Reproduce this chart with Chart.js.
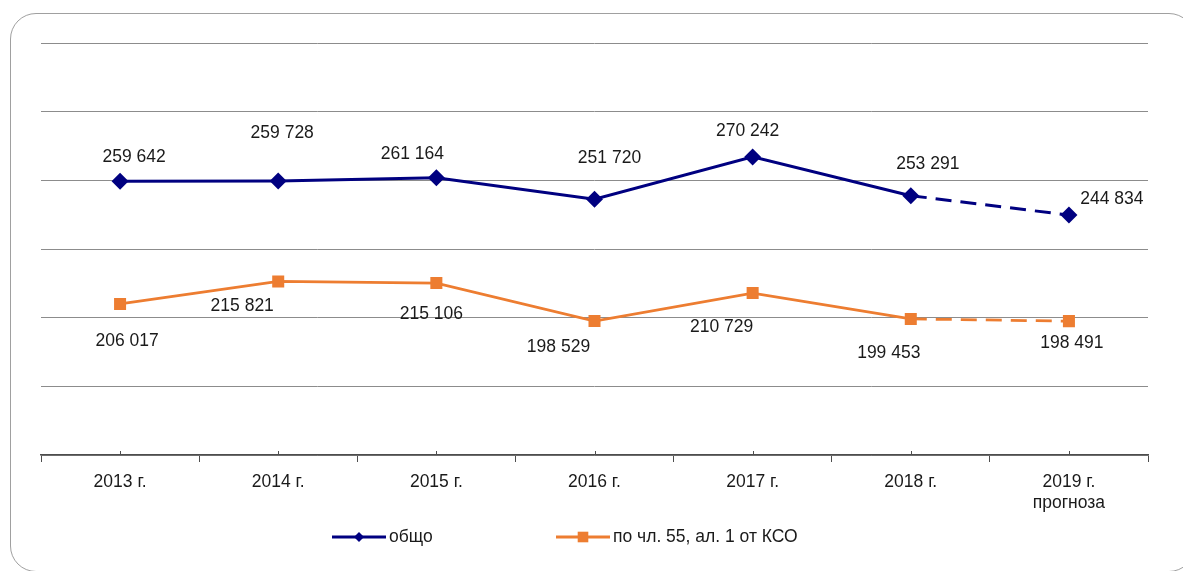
<!DOCTYPE html>
<html lang="bg">
<head>
<meta charset="utf-8">
<title>Общо и по чл. 55, ал. 1 от КСО</title>
<script src="https://cdn.jsdelivr.net/npm/chart.js@4.4.1/dist/chart.umd.min.js"></script>
<style>
    html, body { margin: 0; padding: 0; background: #fff; overflow: hidden; }
    .frame {
        position: absolute;
        left: 10px;
        top: 13px;
        width: 1185px;
        height: 559px;
        border: 1.5px solid #a0a0a0;
        border-radius: 26px;
        box-sizing: border-box;
    }
    #chart { position: absolute; left: 0; top: 0; }
</style>
</head>
<body>
<div class="frame"></div>
<canvas id="chart" width="1183" height="571"></canvas>
<script>
// Данни
const years = ['2013 г.', '2014 г.', '2015 г.', '2016 г.', '2017 г.', '2018 г.', ['2019 г.', 'прогноза']];
const totalValues = [259642, 259728, 261164, 251720, 270242, 253291, 244834];
const art55Values = [206017, 215821, 215106, 198529, 210729, 199453, 198491];
const seriesNames = ['общо', 'по чл. 55, ал. 1 от КСО'];

// отместване на етикетите спрямо точките (px)
const totalLabelOffsets = [[14, -24], [4, -48], [-24, -23], [15, -41], [-5, -26], [17, -32], [43, -16]];
const art55LabelOffsets = [[7, 37], [-36, 25], [-5, 31], [-36, 26], [-31, 34], [-22, 34], [3, 22]];

const forecastIndex = 6;
const fontFamily = '"Liberation Sans", Arial, sans-serif';
const fontSize = 17.5;
const textColor = '#1a1a1a';

const formatNumber = (value) => value.toString().replace(/\B(?=(\d{3})+(?!\d))/g, ' ');

const dashedForecast = (ctx) => ctx.p1DataIndex === forecastIndex ? [16, 9] : undefined;

// етикети със стойностите
const valueLabels = {
    id: 'valueLabels',
    afterDatasetsDraw(chart) {
        const ctx = chart.ctx;
        ctx.save();
        ctx.font = fontSize + 'px ' + fontFamily;
        ctx.fillStyle = textColor;
        ctx.textAlign = 'center';
        ctx.textBaseline = 'middle';
        chart.data.datasets.forEach((ds, di) => {
            const meta = chart.getDatasetMeta(di);
            meta.data.forEach((pt, i) => {
                const off = ds.labelOffsets[i];
                ctx.fillText(formatNumber(ds.data[i]), pt.x + off[0], pt.y + off[1]);
            });
        });
        ctx.restore();
    }
};

// малките чертички в средата на категориите (като в Excel)
const centerTicks = {
    id: 'centerTicks',
    afterDraw(chart) {
        const x = chart.scales.x;
        const ctx = chart.ctx;
        ctx.save();
        ctx.strokeStyle = '#4d4d4d';
        ctx.lineWidth = 1;
        ctx.beginPath();
        x.ticks.forEach((t, i) => {
            const px = Math.round(x.getPixelForTick(i)) + 0.5;
            ctx.moveTo(px, x.top);
            ctx.lineTo(px, x.top - 4);
        });
        ctx.stroke();
        ctx.restore();
    }
};

// легенда долу
const bottomLegend = {
    id: 'bottomLegend',
    afterDraw(chart) {
        const ctx = chart.ctx;
        const legendY = 537;
        const legendX = [332, 556];
        ctx.save();
        chart.data.datasets.forEach((ds, di) => {
            const x0 = legendX[di];
            ctx.strokeStyle = ds.borderColor;
            ctx.fillStyle = ds.backgroundColor;
            ctx.lineWidth = 3;
            ctx.beginPath();
            ctx.moveTo(x0, legendY);
            ctx.lineTo(x0 + 54, legendY);
            ctx.stroke();
            Chart.helpers.drawPoint(ctx, {
                pointStyle: ds.pointStyle,
                radius: ds.pointStyle === 'rect' ? 7.5 : 5,
                borderWidth: 0
            }, x0 + 27, legendY);
            ctx.font = fontSize + 'px ' + fontFamily;
            ctx.fillStyle = textColor;
            ctx.textAlign = 'left';
            ctx.textBaseline = 'middle';
            ctx.fillText(ds.label, x0 + 57, legendY);
        });
        ctx.restore();
    }
};

new Chart(document.getElementById('chart'), {
    type: 'line',
    data: {
        labels: years,
        datasets: [
            {
                label: seriesNames[0],
                data: totalValues,
                labelOffsets: totalLabelOffsets,
                borderColor: '#000080',
                backgroundColor: '#000080',
                borderWidth: 3,
                pointStyle: 'rectRot',
                pointRadius: 8.5,
                pointBorderWidth: 0,
                tension: 0,
                segment: { borderDash: dashedForecast }
            },
            {
                label: seriesNames[1],
                data: art55Values,
                labelOffsets: art55LabelOffsets,
                borderColor: '#ED7D31',
                backgroundColor: '#ED7D31',
                borderWidth: 2.75,
                pointStyle: 'rect',
                pointRadius: 8.5,
                pointBorderWidth: 0,
                tension: 0,
                segment: { borderDash: dashedForecast }
            }
        ]
    },
    options: {
        responsive: false,
        animation: false,
        layout: {
            padding: { left: 41, right: 35, top: 43, bottom: 56 }
        },
        plugins: {
            legend: { display: false },
            tooltip: { enabled: false }
        },
        scales: {
            x: {
                offset: true,
                afterFit(scale) { scale.height = 60; },
                grid: {
                    offset: true,
                    drawOnChartArea: false,
                    tickLength: 7,
                    color: '#4d4d4d'
                },
                border: { color: '#4d4d4d', width: 1.5 },
                ticks: {
                    padding: 9,
                    color: textColor,
                    maxRotation: 0,
                    autoSkip: false,
                    font: { family: fontFamily, size: fontSize, lineHeight: 1.22 }
                }
            },
            y: {
                min: 140000,
                max: 320000,
                afterFit(scale) { scale.width = 0; },
                ticks: { display: false, stepSize: 30000 },
                grid: { color: '#8c8c8c', lineWidth: 1, drawTicks: false },
                border: { display: false }
            }
        }
    },
    plugins: [valueLabels, centerTicks, bottomLegend]
});
</script>
</body>
</html>
